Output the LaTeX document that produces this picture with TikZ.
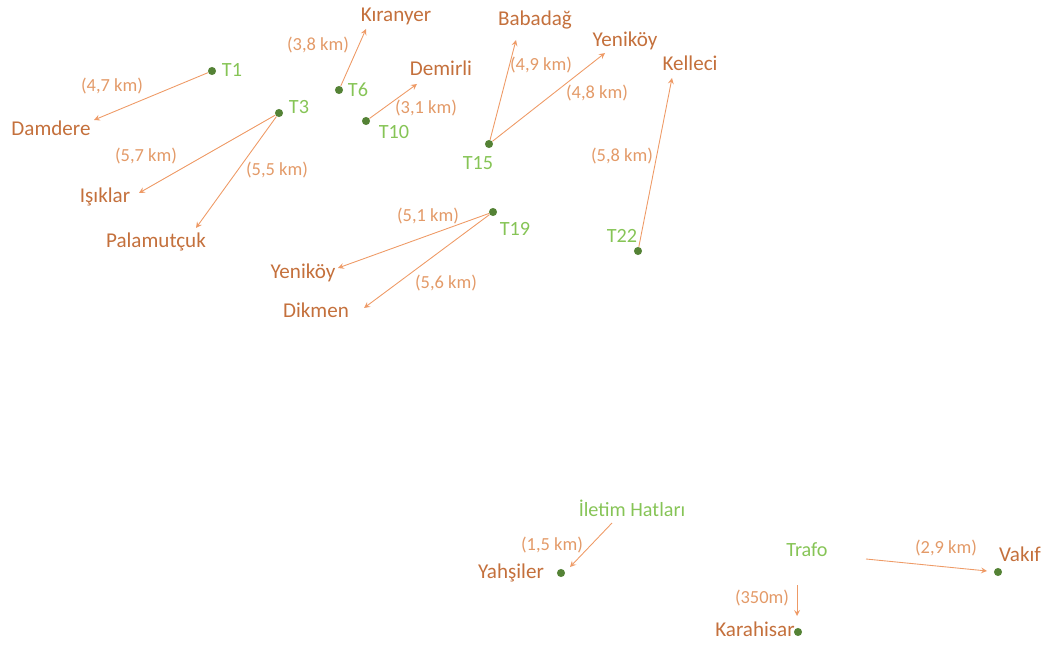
\documentclass[tikz,border=0pt]{standalone}
\usepackage{fontspec}
\setmainfont{Carlito}
\usetikzlibrary{arrows}

\definecolor{koyrenk}{HTML}{C4703C}
\definecolor{mesaferenk}{HTML}{E39A68}
\definecolor{hatrenk}{HTML}{EE9A66}
\definecolor{kulerenk}{HTML}{86C456}
\definecolor{noktarenk}{HTML}{548235}

\tikzset{
    kule/.style={circle, fill=noktarenk, inner sep=0pt, minimum size=4.6pt},
    kuleyazi/.style={text=kulerenk, font=\fontsize{11.5}{13}\selectfont, inner sep=1pt},
    koy/.style={text=koyrenk, font=\fontsize{12}{14}\selectfont, inner sep=1pt},
    mesafe/.style={text=mesaferenk, font=\fontsize{10.5}{12}\selectfont, inner sep=1pt},
    hat/.style={draw=hatrenk, line width=0.5pt, -stealth}
}

\begin{document}
\begin{tikzpicture}[x=0.02cm, y=-0.02cm]
        \useasboundingbox (0,0) rectangle (1042,645);

        % direkler
        \node[kule] (T1) at (212,71) {};
        \node[kule] (T3) at (279,113) {};
        \node[kule] (T6) at (339,90) {};
        \node[kule] (T10) at (366,121) {};
        \node[kule] (T15) at (489,144) {};
        \node[kule] (T19) at (493,212) {};
        \node[kule] (T22) at (638,251) {};
        \node[kule] (Y) at (561,573) {};
        \node[kule] (K) at (798,632) {};
        \node[kule] (V) at (998,572) {};

        \node[kuleyazi] (t1) at (232,70) {T1};
        \node[kuleyazi] (t3) at (299,107) {T3};
        \node[kuleyazi] (t6) at (358,90) {T6};
        \node[kuleyazi] (t10) at (394,132) {T10};
        \node[kuleyazi] (t15) at (478,163) {T15};
        \node[kuleyazi] (t19) at (515,229) {T19};
        \node[kuleyazi] (t22) at (622,236) {T22};
        \node[kuleyazi] (iletim) at (632,508) {İletim Hatları};
        \node[kuleyazi] (trafo) at (807,550) {Trafo};

        % koyler
        \node[koy] (damdere) at (51,128) {Damdere};
        \node[koy] (isiklar) at (105,197) {Işıklar};
        \node[koy] (palamut) at (156,242) {Palamutçuk};
        \node[koy] (kiranyer) at (396,16) {Kıranyer};
        \node[koy] (demirli) at (441,68) {Demirli};
        \node[koy] (babadag) at (535,20) {Babadağ};
        \node[koy] (yenikoyA) at (625,41) {Yeniköy};
        \node[koy] (kelleci) at (690,63) {Kelleci};
        \node[koy] (yenikoyB) at (303,273) {Yeniköy};
        \node[koy] (dikmen) at (316,310) {Dikmen};
        \node[koy] (yahsiler) at (511,573) {Yahşiler};
        \node[koy] (karahisar) at (755,629) {Karahisar};
        \node[koy] (vakif) at (1020,554) {Vakıf};

        % ok uclari
        \coordinate (d1) at (94,120);
        \coordinate (d2) at (139,193);
        \coordinate (d3) at (196,228);
        \coordinate (d4) at (366,29);
        \coordinate (d5) at (417,84);
        \coordinate (d6) at (516,40);
        \coordinate (d7) at (605,53);
        \coordinate (d8) at (672,78);
        \coordinate (d9) at (338,268);
        \coordinate (d10) at (364,308);
        \coordinate (h1) at (612,523);
        \coordinate (h2) at (570,567);
        \coordinate (r1) at (866,559);
        \coordinate (r2) at (987,571);
        \coordinate (r3) at (797,585);
        \coordinate (r4) at (797,616);

        \draw[hat] (T1) -- (d1);
        \draw[hat] (T3) -- (d2);
        \draw[hat] (T3) -- (d3);
        \draw[hat] (T6) -- (d4);
        \draw[hat] (T10) -- (d5);
        \draw[hat] (T15) -- (d6);
        \draw[hat] (T15) -- (d7);
        \draw[hat] (T22) -- (d8);
        \draw[hat] (T19) -- (d9);
        \draw[hat] (T19) -- (d10);
        \draw[hat] (h1) -- (h2);
        \draw[hat] (r1) -- (r2);
        \draw[hat] (r3) -- (r4);

        % mesafeler
        \node[mesafe] (m1) at (112,86) {(4,7 km)};
        \node[mesafe] (m2) at (146,156) {(5,7 km)};
        \node[mesafe] (m3) at (277,170) {(5,5 km)};
        \node[mesafe] (m4) at (318,45) {(3,8 km)};
        \node[mesafe] (m5) at (426,108) {(3,1 km)};
        \node[mesafe] (m6) at (541,65) {(4,9 km)};
        \node[mesafe] (m7) at (597,93) {(4,8 km)};
        \node[mesafe] (m8) at (622,156) {(5,8 km)};
        \node[mesafe] (m9) at (428,216) {(5,1 km)};
        \node[mesafe] (m10) at (446,283) {(5,6 km)};
        \node[mesafe] (m11) at (552,545) {(1,5 km)};
        \node[mesafe] (m12) at (946,548) {(2,9 km)};
        \node[mesafe] (m13) at (762,598) {(350m)};

    \end{tikzpicture}
\end{document}
